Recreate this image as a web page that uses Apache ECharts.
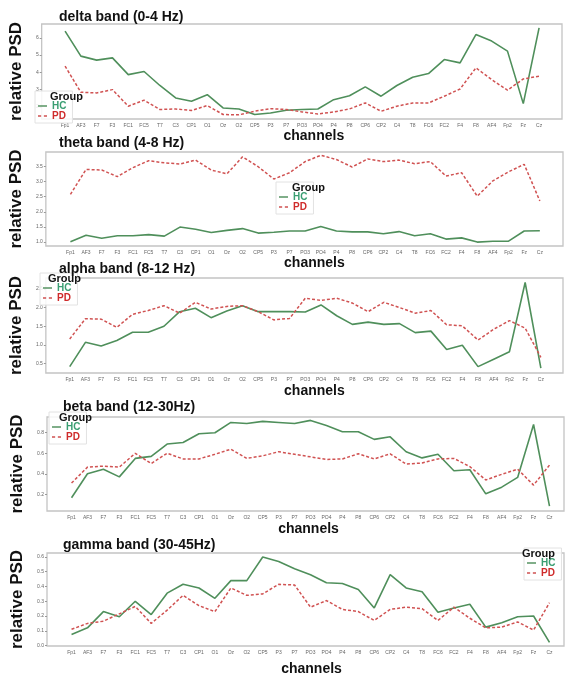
<!DOCTYPE html>
<html>
<head>
<meta charset="UTF-8">
<title>relative PSD</title>
<script src="https://cdn.jsdelivr.net/npm/echarts@6/dist/echarts.min.js"></script>
<style>
  html, body { margin: 0; padding: 0; background: #fff; }
  #main { width: 565px; height: 677px; }
</style>
</head>
<body>
<div id="main"></div>
<script>
// channel order on every x axis
const channels = ['Fp1','AF3','F7','F3','FC1','FC5','T7','C3','CP1','O1','Oz','O2','CP5','P3','P7',
  'PO3','PO4','P4','P8','CP6','CP2','C4','T8','FC6','FC2','F4','F8','AF4','Fp2','Fz','Cz'];

// delta
const deltaHC = [6.39,4.94,4.71,4.84,3.87,4.05,3.24,2.52,2.33,2.71,1.94,1.88,1.56,1.65,1.81,
  1.85,1.88,2.42,2.65,3.16,2.62,3.24,3.72,3.93,4.74,4.55,6.19,5.81,5.23,2.19,6.58];
const deltaPD = [4.36,2.85,2.81,3.0,2.04,2.39,1.85,1.88,1.79,2.08,1.56,1.54,1.75,1.90,1.85,
  1.71,1.59,1.71,1.88,2.23,1.75,2.04,2.23,2.23,2.62,3.04,4.26,3.58,2.97,3.62,3.78];
const deltaTicks = [2,3,4,5,6];

// theta
const thetaHC = [1.0,1.22,1.12,1.20,1.20,1.24,1.19,1.49,1.42,1.31,1.38,1.44,1.29,1.32,1.36,
  1.36,1.51,1.36,1.33,1.33,1.27,1.34,1.20,1.27,1.09,1.13,0.99,1.02,1.02,1.36,1.37];
const thetaPD = [2.58,3.41,3.39,3.17,3.47,3.70,3.63,3.59,3.72,3.39,3.26,3.83,3.50,3.09,3.30,
  3.67,3.88,3.74,3.49,3.76,3.67,3.72,3.60,3.67,3.19,3.30,2.52,3.03,3.33,3.58,2.36];
const thetaTicks = [1.0,1.5,2.0,2.5,3.0,3.5];

// alpha
const alphaHC = [0.42,1.07,0.97,1.12,1.34,1.34,1.50,1.89,1.98,1.73,1.91,2.05,1.89,1.89,1.89,
  1.88,2.07,1.78,1.55,1.61,1.55,1.57,1.33,1.37,0.88,0.99,0.42,0.62,0.82,2.67,0.38];
const alphaPD = [1.16,1.70,1.69,1.47,1.82,1.92,2.05,1.85,2.14,1.96,2.03,2.05,1.89,1.67,1.71,
  2.25,2.19,2.25,2.12,1.89,2.14,2.0,1.85,1.92,1.54,1.51,1.13,1.42,1.65,1.45,0.67];
const alphaTicks = [0.5,1.0,1.5,2.0,2.5];

// beta
const betaHC = [0.167,0.40,0.445,0.37,0.55,0.57,0.69,0.705,0.79,0.80,0.90,0.89,0.91,0.90,0.89,
  0.92,0.87,0.81,0.81,0.735,0.76,0.615,0.555,0.59,0.43,0.44,0.205,0.27,0.365,0.88,0.086];
const betaPD = [0.31,0.465,0.475,0.465,0.60,0.50,0.60,0.545,0.545,0.59,0.64,0.55,0.575,0.615,0.59,
  0.565,0.54,0.545,0.595,0.545,0.595,0.495,0.505,0.545,0.55,0.47,0.34,0.395,0.445,0.29,0.485];
const betaTicks = [0.2,0.4,0.6,0.8];

// gamma
const gammaHC = [0.075,0.12,0.23,0.195,0.30,0.21,0.355,0.415,0.39,0.32,0.44,0.44,0.60,0.57,0.52,
  0.48,0.425,0.42,0.38,0.255,0.48,0.39,0.365,0.225,0.255,0.28,0.125,0.155,0.195,0.20,0.022];
const gammaPD = [0.11,0.15,0.165,0.215,0.265,0.15,0.24,0.34,0.27,0.23,0.39,0.34,0.35,0.415,0.41,
  0.26,0.305,0.245,0.23,0.17,0.245,0.26,0.25,0.17,0.26,0.185,0.12,0.125,0.16,0.105,0.29];
const gammaTicks = [0.0,0.1,0.2,0.3,0.4,0.5,0.6];

const hcColor = '#4f8f5b';
const pdColor = '#d05252';

// one entry per panel: data + where it sits on the page
const panels = [
  {name:'delta band (0-4 Hz)', hc:deltaHC, pd:deltaPD, ticks:deltaTicks, dec:0,
   top:24, h:95, left:34, right:3, xmin:-1.48, xmax:31.45, ymin:1.3, ymax:6.8,
   titleLeft:59, titleTop:10, yGap:9, xGap:7, xShift:12,
   lg:{left:35, top:91, group:50}},
  {name:'theta band (4-8 Hz)', hc:thetaHC, pd:thetaPD, ticks:thetaTicks, dec:1,
   top:152, h:94, left:37, right:2, xmin:-1.57, xmax:31.48, ymin:0.86, ymax:3.99,
   titleLeft:59, titleTop:136, yGap:11, xGap:8, xShift:10,
   lg:{left:276, top:182, group:292}},
  {name:'alpha band (8-12 Hz)', hc:alphaHC, pd:alphaPD, ticks:alphaTicks, dec:1,
   top:278, h:95, left:38, right:2, xmin:-1.52, xmax:31.41, ymin:0.25, ymax:2.79,
   titleLeft:59, titleTop:262, yGap:12, xGap:11, xShift:10,
   lg:{left:40, top:273, group:48}},
  {name:'beta band (12-30Hz)', hc:betaHC, pd:betaPD, ticks:betaTicks, dec:1,
   top:417, h:94, left:47, right:1, xmin:-1.54, xmax:30.91, ymin:0.038, ymax:0.953,
   titleLeft:63, titleTop:400, yGap:16, xGap:11, xShift:3,
   lg:{left:49, top:412, group:59}},
  {name:'gamma band (30-45Hz)', hc:gammaHC, pd:gammaPD, ticks:gammaTicks, dec:1,
   top:553, h:94, left:47, right:1, xmin:-1.54, xmax:30.91, ymin:-0.003, ymax:0.627,
   titleLeft:63, titleTop:538, yGap:17, xGap:16, xShift:6,
   lg:{left:524, top:548, group:522}}
];

// legend markers: short solid / dashed strokes
const hcIcon = 'path://M0,0H10V1.6H0Z';
const pdIcon = 'path://M0,0H3.5V1.6H0Z M6.5,0H10V1.6H6.5Z';

const grid = [], xAxis = [], yAxis = [], series = [], title = [], legend = [];

panels.forEach(function (p, i) {
  grid.push({
    left: p.left, right: p.right, top: p.top, height: p.h,
    show: true, borderColor: '#c4c4c4', borderWidth: 1.3
  });
  title.push({
    text: p.name, left: p.titleLeft, top: p.titleTop, padding: 0,
    textStyle: {fontFamily: 'Liberation Sans', fontSize: 14, fontWeight: 'bold', color: '#111'}
  });
  title.push({
    text: 'Group', left: p.lg.group, top: p.lg.top, padding: 0, z: 10,
    textStyle: {fontFamily: 'Liberation Sans', fontSize: 11, fontWeight: 'bold', color: '#111'}
  });
  xAxis.push({
    type: 'value', gridIndex: i, min: p.xmin, max: p.xmax,
    name: 'channels', nameLocation: 'middle', nameGap: p.xGap,
    nameTextStyle: {fontFamily: 'Liberation Sans', fontSize: 14, fontWeight: 'bold', color: '#111',
      padding: [0, 0, 0, 2 * p.xShift]},
    axisLine: {show: false, onZero: false}, axisTick: {show: false}, splitLine: {show: false},
    axisLabel: {
      customValues: channels.map(function (c, k) { return k; }),
      formatter: function (v) { return channels[Math.round(v)]; },
      fontSize: 5, color: '#666', margin: 4, fontFamily: 'Liberation Sans'
    }
  });
  yAxis.push({
    type: 'value', gridIndex: i, min: p.ymin, max: p.ymax,
    name: 'relative PSD', nameLocation: 'middle', nameGap: p.yGap,
    nameTextStyle: {fontFamily: 'Liberation Sans', fontSize: 17, fontWeight: 'bold', color: '#111'},
    axisLine: {show: false, onZero: false}, splitLine: {show: false},
    axisTick: {show: true, customValues: p.ticks, length: 2, lineStyle: {color: '#999'}},
    axisLabel: {
      customValues: p.ticks,
      formatter: function (v) { return v.toFixed(p.dec); },
      fontSize: 5, color: '#666', margin: 3, fontFamily: 'Liberation Sans'
    }
  });
  series.push({
    name: 'HC', type: 'line', xAxisIndex: i, yAxisIndex: i, symbol: 'none',
    data: p.hc.map(function (v, k) { return [k, v]; }),
    lineStyle: {color: hcColor, width: 1.6}, itemStyle: {color: hcColor}
  });
  series.push({
    name: 'PD', type: 'line', xAxisIndex: i, yAxisIndex: i, symbol: 'none',
    data: p.pd.map(function (v, k) { return [k, v]; }),
    lineStyle: {color: pdColor, width: 1.5, type: [3, 2]}, itemStyle: {color: pdColor}
  });
  legend.push({
    left: p.lg.left, top: p.lg.top, orient: 'vertical',
    padding: [10, 6, 2, 3], itemGap: 0, itemWidth: 9, itemHeight: 2,
    borderColor: '#e2e2e2', borderWidth: 1, backgroundColor: 'rgba(255,255,255,0.85)',
    selectedMode: false,
    textStyle: {fontFamily: 'Liberation Sans', fontSize: 10, fontWeight: 'bold', lineHeight: 10},
    data: [
      {name: 'HC', icon: hcIcon, itemStyle: {color: hcColor}, textStyle: {color: '#3a9e72'}},
      {name: 'PD', icon: pdIcon, itemStyle: {color: pdColor}, textStyle: {color: '#cf2b2b'}}
    ]
  });
});

const myChart = echarts.init(document.getElementById('main'));
myChart.setOption({
  backgroundColor: '#fff',
  animation: false,
  title: title,
  legend: legend,
  grid: grid,
  xAxis: xAxis,
  yAxis: yAxis,
  series: series
});
</script>
</body>
</html>
